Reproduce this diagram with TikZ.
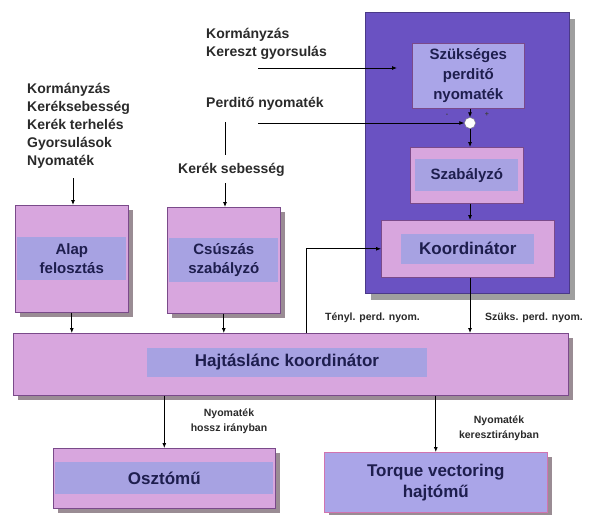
\documentclass[tikz,border=0pt]{standalone}
\usepackage{fontspec}
\setmainfont{Liberation Sans}
\usetikzlibrary{shadows,arrows.meta}
\definecolor{pinkc}{HTML}{D8A6DE}
\definecolor{bandc}{HTML}{A7A2E2}
\definecolor{szukc}{HTML}{AAA5E8}
\definecolor{purplec}{HTML}{6A52C2}
\definecolor{edgec}{HTML}{7A4A8A}
\definecolor{shadowc}{HTML}{9A8C94}
\definecolor{navyc}{HTML}{1E1E4E}
\definecolor{txtc}{HTML}{2A2A2A}
\begin{document}
\begin{tikzpicture}[x=1pt,y=-1pt,
  boxc/.style={draw=edgec, line width=0.6pt, fill=pinkc, inner sep=0pt, anchor=north west},
  shad/.style={drop shadow={shadow xshift=5pt,shadow yshift=-5pt,fill=shadowc,opacity=1}},
  bandn/.style={fill=bandc, inner sep=0pt, align=center, text=navyc, font=\bfseries\fontsize{15}{19}\selectfont},
  bigt/.style={font=\bfseries\fontsize{17}{21}\selectfont},
  inlbl/.style={anchor=north west, inner sep=0pt, align=left, text=txtc, font=\bfseries\fontsize{14}{18}\selectfont},
  smlbl/.style={inner sep=0pt, align=center, text=txtc, font=\bfseries\fontsize{10.5}{15}\selectfont},
  sgn/.style={inner sep=0pt, text=black!75, font=\bfseries\fontsize{7}{8}\selectfont},
  arr/.style={draw=black, line width=0.8pt, -{Latex[length=5pt,width=4pt]}},
  ln/.style={draw=black, line width=0.8pt}
]
\useasboundingbox[fill=white] (0,0) rectangle (593,514);

% purple block
\node[boxc, fill=purplec, draw=purplec!70!black, minimum width=204pt, minimum height=281pt,
  drop shadow={shadow xshift=6pt,shadow yshift=-7pt,fill=gray!75,opacity=1}] (vb) at (365,12) {};
\node[boxc, fill=szukc, minimum width=112pt, minimum height=65pt, align=center, text=navyc,
  font=\bfseries\fontsize{15}{20}\selectfont] (szuk) at (412,43) {Szükséges\\perditő\\nyomaték};
\node[circle, draw=gray, fill=white, minimum size=11pt, inner sep=0pt] (sum) at (470,123) {};
\node[sgn] (mn) at (447,115) {-};
\node[sgn] (pl) at (487,114) {+};
\node[boxc, minimum width=113pt, minimum height=56pt] (szab) at (410,147) {};
\node[bandn, minimum width=103pt, minimum height=32pt] (szabt) at (szab.center) {Szabályzó};
\node[boxc, minimum width=173pt, minimum height=57pt] (koord) at (381,220) {};
\node[bandn, bigt, minimum width=133pt, minimum height=30pt] (koordt) at (koord.center) {Koordinátor};

% left boxes
\node[boxc, shad, minimum width=113pt, minimum height=107pt] (alap) at (15,205) {};
\node[bandn, minimum width=109pt, minimum height=43pt] (alapt) at (alap.center) {Alap\\felosztás};
\node[boxc, shad, minimum width=113pt, minimum height=106pt] (csusz) at (167,207) {};
\node[bandn, minimum width=109pt, minimum height=44pt] (csuszt) at (csusz.center) {Csúszás\\szabályzó};

% coordinator
\node[boxc, shad, minimum width=555pt, minimum height=62pt] (hajt) at (13,333) {};
\node[bandn, bigt, minimum width=280pt, minimum height=29pt] (hajtt) at (287,362) {Hajtáslánc koordinátor};

% outputs
\node[boxc, shad, minimum width=222pt, minimum height=60pt] (oszt) at (53,448) {};
\node[bandn, bigt, minimum width=218pt, minimum height=32pt] (osztt) at (oszt.center) {Osztómű};
\node[boxc, shad, fill=szukc, draw=pinkc!70!purple, minimum width=223pt, minimum height=60pt,
  align=center, text=navyc, bigt] (torq) at (324,452) {Torque vectoring\\hajtómű};

% outside texts
\node[inlbl] (lst) at (27,83) {Kormányzás\\Keréksebesség\\Kerék terhelés\\Gyorsulások\\Nyomaték};
\node[inlbl] (kk) at (206,28) {Kormányzás\\Kereszt gyorsulás};
\node[inlbl] (pn) at (206,97) {Perditő nyomaték};
\node[inlbl] (ks) at (178,163) {Kerék sebesség};

\node[smlbl, anchor=base west] (tl) at (325,320) {Tényl. perd. nyom.};
\node[smlbl, anchor=base west] (sl) at (485,320) {Szüks. perd. nyom.};
\node[smlbl] (nh) at (229,421) {Nyomaték\\hossz irányban};
\node[smlbl] (nk) at (499,428) {Nyomaték\\keresztirányban};

% connectors
\coordinate (kka) at (258,68);
\coordinate (kkb) at (397,68);
\draw[arr] (kka) -- (kkb);
\coordinate (pna) at (258,123);
\draw[arr] (pna) -- (sum.west);
\coordinate (vla) at (225,122);
\coordinate (vlb) at (225,155);
\draw[ln] (vla) -- (vlb);
\coordinate (ksa) at (225,183);
\draw[arr] (ksa) -- (ksa |- csusz.north);
\coordinate (lsa) at (73,178);
\draw[arr] (lsa) -- (lsa |- alap.north);
\draw[arr] (alap.south) -- (alap.south |- hajt.north);
\draw[arr] (csusz.south) -- (csusz.south |- hajt.north);
\draw[arr] (szuk.south -| sum) -- (sum.north);
\draw[arr] (sum.south) -- (sum.south |- szab.north);
\draw[arr] (sum.south |- szab.south) -- (sum.south |- koord.north);
\draw[arr] (koord.south -| sum) -- (sum |- hajt.north);
\coordinate (fbx) at (306,0);
\draw[arr] (fbx |- hajt.north) |- (koord.west);
\draw[arr] (oszt.north |- hajt.south) -- (oszt.north);
\draw[arr] (torq.north |- hajt.south) -- (torq.north);
\end{tikzpicture}
\end{document}
